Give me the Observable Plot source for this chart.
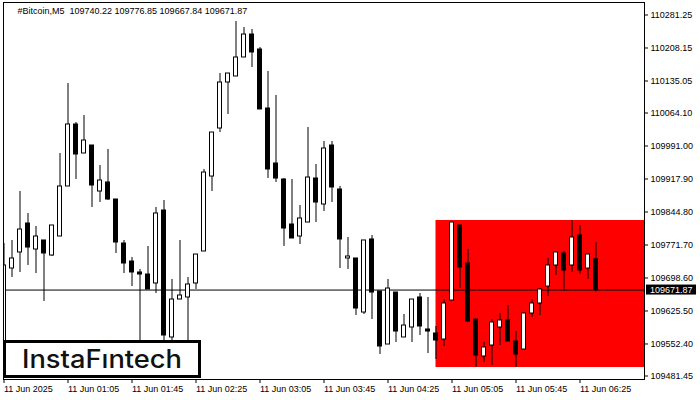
<!DOCTYPE html>
<html>
<head>
<meta charset="utf-8">
<script src="https://cdn.jsdelivr.net/npm/d3@7"></script>
<script src="https://cdn.jsdelivr.net/npm/@observablehq/plot@0.6"></script>
<style>
  html, body { margin: 0; padding: 0; background: #fff; }
  #chart { width: 700px; height: 400px; }
</style>
</head>
<body>
<div id="chart"></div>
<script>
// ---- data (Bitcoin M5, 11 Jun 2025, bars from 00:25) ----
const symbol = "#Bitcoin,M5";
const firstBar = "2025-06-11T00:25:00Z";
const barMinutes = 5;

const open = [
  109537.9,109719.6,109755.1,109819.3,109761.7,109781.7,109748.4,109790.5,109901.3,110038.7,
  109974.4,109992.1,109890.2,109910.2,109872.5,109775.0,109735.1,109710.8,109706.3,109686.4,
  109848.1,109566.8,109650.9,109655.4,109686.4,109757.3,109923.4,110029.8,110131.7,110145.0,
  110187.1,110238.0,110204.8,110074.1,109952.2,109916.8,109817.1,109790.5,109821.5,109919.0,
  109861.4,109992.1,109894.6,109741.8,109741.8,109622.1,109783.9,109668.7,109551.2,109666.4,
  109566.8,109588.9,109655.4,109584.5,109575.6,109562.3,109648.7,109814.9,109730.7,109606.6,
  109524.7,109549.0,109588.9,109604.4,109557.9,109540.2,109619.9,109642.1,109679.7,109726.3,
  109752.9,109726.3,109792.7,109719.6,109740.22
];
const high = [
  109775.0,109781.7,109890.2,109841.5,109812.7,109781.7,109814.9,109974.4,110129.5,110043.1,
  110058.6,109992.1,109947.8,109983.3,109872.5,109781.7,109744.0,109717.4,109768.4,109854.8,
  109870.3,109695.3,109781.7,109699.7,109750.6,109939.0,110020.9,110151.6,110151.6,110266.8,
  110253.6,110249.1,110209.2,110156.1,110102.9,109919.0,109916.8,109859.2,110032.0,109950.0,
  110001.0,110001.0,109901.3,109788.3,109741.8,109781.7,109792.7,109668.7,109695.3,109666.4,
  109617.7,109650.9,109664.2,109655.4,109591.1,109650.9,109821.5,109814.9,109761.7,109606.6,
  109555.7,109606.6,109619.9,109637.6,109580.0,109619.9,109650.9,109675.3,109741.8,109755.1,
  109757.3,109826.0,109814.9,109750.6,109776.85
];
const low = [
  109515.8,109699.7,109710.8,109726.3,109708.5,109646.5,109746.2,109790.5,109901.3,109916.8,
  109974.4,109854.8,109865.8,109870.3,109752.9,109708.5,109679.7,109549.0,109673.1,109664.2,
  109537.9,109549.0,109650.9,109537.9,109673.1,109757.3,109890.2,110020.9,110060.8,110145.0,
  110187.1,110164.9,110071.9,109919.0,109910.2,109768.4,109786.1,109772.8,109821.5,109821.5,
  109845.9,109865.8,109719.6,109717.4,109615.5,109617.7,109606.6,109529.1,109551.2,109555.7,
  109566.8,109555.7,109571.2,109531.3,109518.0,109546.8,109648.7,109675.3,109600.0,109500.3,
  109511.4,109504.7,109549.0,109557.9,109500.3,109540.2,109611.1,109615.5,109657.6,109704.1,
  109668.7,109710.8,109706.3,109695.3,109667.84
];
const close = [
  109726.3,109741.8,109806.0,109766.1,109790.5,109752.9,109814.9,109901.3,110038.7,109972.2,
  110003.2,109903.5,109914.6,109872.5,109777.2,109730.7,109710.8,109706.3,109673.1,109841.5,
  109571.2,109650.9,109659.8,109684.2,109750.6,109932.3,110020.9,110131.7,110151.6,110187.1,
  110238.0,110198.2,110071.9,109939.0,109919.0,109808.2,109786.1,109830.4,109921.2,109865.8,
  109985.5,109899.1,109783.9,109746.2,109631.0,109781.7,109666.4,109546.8,109675.3,109580.0,
  109593.3,109650.9,109591.1,109580.0,109560.1,109642.1,109821.5,109721.8,109602.2,109526.9,
  109544.6,109600.0,109604.4,109557.9,109529.1,109619.9,109642.1,109673.1,109726.3,109755.1,
  109715.2,109788.3,109715.2,109750.6,109671.87
];

// red zone (starts at bar 54 = 04:55, runs to the right edge)
const zoneStartBar = 54;
const zoneTop = 109826.0;
const zoneBottom = 109500.3;

// axis ticks
const yTicks = [110281.25,110208.15,110135.05,110064.10,109991.00,109917.90,
                109844.80,109771.70,109698.60,109625.50,109552.40,109481.45];
const xTickTimes = ["00:25","01:05","01:45","02:25","03:05","03:45","04:25","05:05","05:45","06:25"];
const xTickLabels = ["11 Jun 2025","11 Jun 01:05","11 Jun 01:45","11 Jun 02:25","11 Jun 03:05",
                     "11 Jun 03:45","11 Jun 04:25","11 Jun 05:05","11 Jun 05:45","11 Jun 06:25"];
const brand = "InstaFıntech";

// ---- build ----
const t0 = new Date(firstBar).getTime();
const bar = barMinutes * 60000;
const candles = open.map((o, i) => ({
  t: new Date(t0 + i * bar), open: o, high: high[i], low: low[i], close: close[i]
}));
const last = candles[candles.length - 1];
const lastClose = last.close;
const titleText = `${symbol}  ${last.open.toFixed(2)} ${last.high.toFixed(2)} ${last.low.toFixed(2)} ${last.close.toFixed(2)}`;

const xDomain = [new Date(t0 - 0.0625 * bar), new Date(t0 + 80.0625 * bar)];
const yDomain = [109473.70, 110308.94];
const half = bar * 0.25; // body half width
const tickDates = xTickTimes.map(s => new Date(`2025-06-11T${s}:00Z`));
const labelMap = new Map(tickDates.map((d, i) => [+d, xTickLabels[i]]));
const zone = [{x1: candles[zoneStartBar].t, x2: xDomain[1], y1: zoneBottom, y2: zoneTop}];

const FONT = "'Liberation Sans', Arial, sans-serif";

const chart = Plot.plot({
  width: 700, height: 400,
  marginLeft: 3, marginRight: 56, marginTop: 2, marginBottom: 21,
  x: {type: "utc", domain: xDomain},
  y: {domain: yDomain},
  style: {fontFamily: FONT, fontSize: "9px", color: "black", background: "white", overflow: "visible"},
  marks: [
    Plot.rect(zone, {x1: "x1", x2: "x2", y1: "y1", y2: "y2", fill: "#ff0000", clip: true}),
    Plot.ruleY([lastClose], {stroke: "black", strokeWidth: 1}),
    Plot.ruleX(candles, {x: "t", y1: "low", y2: "high", stroke: "black", strokeWidth: 1, clip: true}),
    Plot.rect(candles, {
      x1: d => new Date(+d.t - half), x2: d => new Date(+d.t + half),
      y1: "open", y2: "close",
      fill: d => d.close > d.open ? "white" : "black",
      stroke: "black", strokeWidth: 1, clip: true
    }),
    Plot.frame({stroke: "black"}),
    Plot.axisX({ticks: tickDates, tickFormat: d => labelMap.get(+d), tickSize: 4, tickPadding: 2,
                textAnchor: "start", label: null}),
    Plot.axisY({anchor: "right", ticks: yTicks, tickFormat: d => d.toFixed(2), tickSize: 3,
                tickPadding: 3, label: null}),
    Plot.text([titleText], {text: d => d, frameAnchor: "top-left", dx: 14, dy: 5,
                lineAnchor: "top", textAnchor: "start", fill: "black", fontSize: 9})
  ]
});

// current price label on the right axis
const svg = d3.select(chart);
const py = chart.scale("y").apply(lastClose);
const g = svg.append("g").attr("text-anchor", "start");
g.append("rect").attr("x", 646).attr("y", py - 5).attr("width", 50).attr("height", 10)
  .style("fill", "#000").style("stroke", "none");
g.append("text").attr("x", 650).attr("y", py).attr("dy", "0.34em")
  .style("fill", "#fff").style("text-anchor", "start")
  .attr("font-family", FONT).attr("font-size", 9).text(lastClose.toFixed(2));

// InstaFintech badge
const logo = svg.append("g").attr("text-anchor", "start");
logo.append("rect").attr("x", 4.5).attr("y", 341.5).attr("width", 195).attr("height", 35)
  .style("fill", "#fff").style("stroke", "#000").attr("stroke-width", 3);
logo.append("text").attr("x", 22).attr("y", 368).style("text-anchor", "start")
  .attr("font-family", "Inter, 'Open Sans', sans-serif")
  .attr("font-size", 25).attr("font-weight", 500).style("fill", "#111")
  .attr("textLength", 160).attr("lengthAdjust", "spacingAndGlyphs").text(brand);

document.getElementById("chart").appendChild(chart);
</script>
</body>
</html>
